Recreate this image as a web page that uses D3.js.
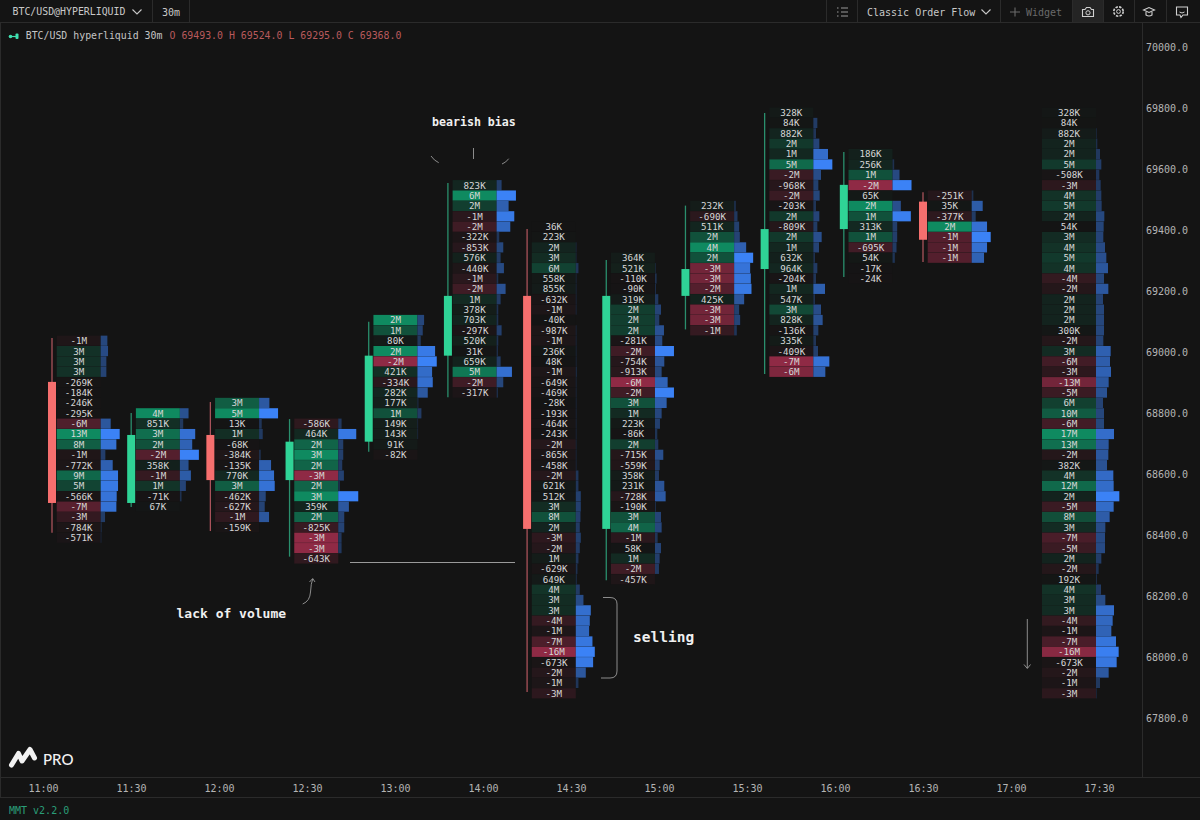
<!DOCTYPE html>
<html><head><meta charset="utf-8">
<style>html,body{margin:0;padding:0;background:#141414;overflow:hidden}svg{display:block}</style>
<script src="https://cdn.jsdelivr.net/npm/d3@7/dist/d3.min.js"></script></head>
<body><svg id="c" width="1200" height="820"></svg>
<script>
const timeLabels=["11:00","11:30","12:00","12:30","13:00","14:00","14:30","15:00","15:30","16:00","16:30","17:00","17:30"];
const priceTicks=[70000,69800,69600,69400,69200,69000,68800,68600,68400,68200,68000,67800];
const candleIds=[0,1,2,3,4,5,6,7,8,9,10,11];
const opens =[68902,68505,68728,68580,68706,68988,69184,68420,69184,69272,69403,69493];
const closes=[68505,68728,68580,68706,68988,69184,68420,69184,69272,69403,69548,69368];
const highs =[69046,68800,68836,68780,69099,69554,69403,69302,69480,69784,69656,69524];
const lows  =[68407,68492,68413,68329,68673,68852,67885,68252,69074,68928,69246,69295];
const topRowPrice=[69037,68799,68833,68765,69105,69547,69411,69309,69479,69785,69649,69513];
const rowPriceStep=34;
const deltaLabels=[
["-1M","3M","3M","3M","-269K","-184K","-246K","-295K","-6M","13M","8M","-1M","-772K","9M","5M","-566K","-7M","-3M","-784K","-571K"],
["4M","851K","3M","2M","-2M","358K","-1M","1M","-71K","67K"],
["3M","5M","13K","1M","-68K","-384K","-135K","770K","3M","-462K","-627K","-1M","-159K"],
["-586K","464K","2M","3M","2M","-3M","2M","3M","359K","2M","-825K","-3M","-3M","-643K"],
["2M","1M","80K","2M","-2M","421K","-334K","282K","177K","1M","149K","143K","91K","-82K"],
["823K","6M","2M","-1M","-2M","-322K","-853K","576K","-440K","-1M","-2M","1M","378K","703K","-297K","520K","31K","659K","5M","-2M","-317K"],
["36K","223K","2M","3M","6M","558K","855K","-632K","-1M","-40K","-987K","-1M","236K","48K","-1M","-649K","-469K","-28K","-193K","-464K","-243K","-2M","-865K","-458K","-2M","621K","512K","3M","8M","2M","-3M","-2M","1M","-629K","649K","4M","3M","3M","-4M","-1M","-7M","-16M","-673K","-2M","-1M","-3M"],
["364K","521K","-110K","-90K","319K","2M","2M","2M","-281K","-2M","-754K","-913K","-6M","-2M","3M","1M","223K","-86K","2M","-715K","-559K","358K","231K","-728K","-190K","3M","4M","-1M","58K","1M","-2M","-457K"],
["232K","-690K","511K","2M","4M","2M","-3M","-3M","-2M","425K","-3M","-3M","-1M"],
["328K","84K","882K","2M","1M","5M","-2M","-968K","-2M","-203K","2M","-809K","2M","1M","632K","964K","-204K","1M","547K","3M","828K","-136K","335K","-409K","-7M","-6M"],
["186K","256K","1M","-2M","65K","2M","1M","313K","1M","-695K","54K","-17K","-24K"],
["-251K","35K","-377K","2M","-1M","-1M","-1M"]];
const volumes=[
[20,22,17,17,0,0,0,0,30,57,47,14,36,52,52,48,47,13,3,2],
[26,10,46,37,57,26,33,18,5,0],
[31,57,8,11,0,5,36,45,47,20,17,30,0],
[10,54,15,15,12,17,5,60,32,18,18,10,10,0],
[20,16,10,53,58,44,46,31,3,12,2,2,0,0],
[15,58,36,53,41,8,20,12,22,5,27,12,5,5,15,5,4,12,46,20,4],
[0,0,2,2,8,2,2,2,2,0,2,2,2,2,3,2,2,2,2,2,2,2,2,2,8,8,15,15,14,12,15,12,8,5,3,12,23,45,42,40,50,57,52,30,8,0],
[0,2,5,3,10,18,13,27,22,57,28,20,38,57,35,20,15,7,10,25,14,12,28,32,3,18,20,8,18,14,12,0],
[5,10,15,17,36,57,48,50,52,30,15,18,8],
[0,12,8,18,44,57,23,15,19,8,18,12,25,17,5,12,8,35,5,23,28,15,8,14,48,36],
[0,5,21,57,0,25,55,14,14,12,7,0,0],
[5,33,12,46,57,46,37]];
const profileTopPrice=69785;
const profileDeltas=["328K","84K","882K","2M","2M","5M","-508K","-3M","4M","5M","2M","54K","3M","4M","5M","4M","-4M","-2M","2M","2M","2M","300K","-2M","3M","-6M","-3M","-13M","-5M","6M","10M","-6M","17M","13M","-2M","382K","4M","12M","2M","-5M","8M","3M","-7M","-5M","2M","-2M","192K","4M","3M","3M","-4M","-1M","-7M","-16M","-673K","-2M","-1M","-3M"];
const profileVolumes=[0,0,2,4,12,16,10,14,16,17,25,23,22,27,31,36,24,37,21,24,24,24,22,44,42,45,38,33,21,24,24,54,38,37,33,52,53,70,53,41,28,27,27,16,8,3,15,28,54,50,46,60,68,62,38,12,2];

const BG="#141414",LINE="#2b2b2b",MONO="'DejaVu Sans Mono','Liberation Mono',monospace";
const UP="#2fd396",DOWN="#f66f6e",UPW="#2a8f6d",DOWNW="#a9525a";
const svg=d3.select("#c");
svg.append("rect").attr("width",1200).attr("height",820).attr("fill",BG);

const y=d3.scaleLinear().domain([67800,70000]).range([718,47]);
const x=d3.scalePoint().domain(candleIds).range([52,923]);
const xTime=d3.scalePoint().domain(timeLabels).range([43,1099]);
const volW=d3.scaleLinear().domain([0,300]).range([0,100]);
const rowH=y(0)-y(rowPriceStep);
const parse=s=>{const v=parseFloat(s);return s.endsWith("M")?v*1e6:v*1e3;};
const cellColor=(v,max)=>{const r=Math.abs(v)/max;return d3.interpolateRgb(BG,v>=0?"#0f8a60":"#8f2a45")(Math.pow(r,0.95));};
const volColor=(v,max)=>d3.interpolateRgb(BG,"#3b82f6")(Math.min(1,0.2+0.8*Math.pow(v/max,1.05)));

function drawLadder(g,top,labels,vols,cellX,cellW){
  const rows=labels.map((l,i)=>({l,d:parse(l),v:vols[i],p:top-i*rowPriceStep}));
  const maxD=d3.max(rows,r=>Math.abs(r.d)),maxV=d3.max(rows,r=>r.v);
  g.selectAll("rect.cell").data(rows).join("rect").attr("class","cell")
   .attr("x",cellX).attr("width",cellW).attr("y",r=>y(r.p)-rowH/2+0.1).attr("height",rowH-0.2)
   .attr("fill",r=>cellColor(r.d,maxD));
  g.selectAll("rect.vol").data(rows.filter(r=>r.v>0)).join("rect").attr("class","vol")
   .attr("x",cellX+cellW).attr("width",r=>volW(r.v)).attr("y",r=>y(r.p)-rowH/2+0.1).attr("height",rowH-0.2)
   .attr("fill",r=>volColor(r.v,maxV));
  g.selectAll("text").data(rows).join("text")
   .attr("x",cellX+cellW/2).attr("y",r=>y(r.p)+0.2).attr("dy","0.35em").attr("text-anchor","middle")
   .attr("font-family",MONO).attr("font-size",9.2).attr("fill","#d6d6d6").text(r=>r.l);
}
const chart=svg.append("g");
candleIds.forEach(i=>{
  const g=chart.append("g");
  drawLadder(g,topRowPrice[i],deltaLabels[i],volumes[i],x(i)+4.7,44);
});
drawLadder(chart.append("g"),profileTopPrice,profileDeltas,profileVolumes,1042,54);

const candles=candleIds.map(i=>({i,o:opens[i],c:closes[i],h:highs[i],l:lows[i]}));
chart.selectAll("line.wick").data(candles).join("line").attr("class","wick")
 .attr("x1",d=>x(d.i)).attr("x2",d=>x(d.i)).attr("y1",d=>y(d.h)).attr("y2",d=>y(d.l))
 .attr("stroke",d=>d.c>=d.o?UPW:DOWNW).attr("stroke-width",1.3);
chart.selectAll("rect.body").data(candles).join("rect").attr("class","body")
 .attr("x",d=>x(d.i)-4).attr("width",8).attr("y",d=>y(Math.max(d.o,d.c)))
 .attr("height",d=>Math.abs(y(d.o)-y(d.c)))
 .attr("fill",d=>d.c>=d.o?UP:DOWN);

// frame lines
const frame=svg.append("g").attr("stroke",LINE).attr("stroke-width",1);
[[0,22.5,1200,22.5],[0,777.5,1200,777.5],[0,797.5,1200,797.5],[1142.5,22,1142.5,777],[0.5,22,0.5,797],
 [152.5,0,152.5,22],[189.5,0,189.5,22],[826.5,0,826.5,22],[857.5,0,857.5,22],[1000.5,0,1000.5,22],[1072.5,0,1072.5,22],[1103.5,0,1103.5,22],[1134.5,0,1134.5,22],[1166.5,0,1166.5,22]]
 .forEach(a=>frame.append("line").attr("x1",a[0]).attr("y1",a[1]).attr("x2",a[2]).attr("y2",a[3]));
svg.append("rect").attr("x",1073).attr("y",0).attr("width",30).attr("height",22).attr("fill","#242424");

// axes
const yAxis=d3.axisRight(y).tickValues(priceTicks).tickSize(0).tickPadding(0).tickFormat(d=>d3.format(".1f")(d));
const ya=svg.append("g").attr("transform","translate(1146,0)").call(yAxis);
ya.select(".domain").remove();
ya.selectAll("text").attr("font-family",MONO).attr("font-size",10).attr("fill","#b4b4b4");
const xAxis=d3.axisBottom(xTime).tickSize(0).tickPadding(0);
const xa=svg.append("g").attr("transform","translate(0,784.5)").call(xAxis);
xa.select(".domain").remove();
xa.selectAll("text").attr("font-family",MONO).attr("font-size",10).attr("fill","#b4b4b4");

// text helper
const T=(s,xx,yy,size,fill,extra={})=>{const t=svg.append("text").attr("x",xx).attr("y",yy).attr("dy","0.35em")
  .attr("font-family",MONO).attr("font-size",size).attr("fill",fill).text(s);
  Object.entries(extra).forEach(([k,v])=>t.attr(k,v));return t;};
T("BTC/USD@HYPERLIQUID",12.5,12,9.9,"#c8c8c8");
T("30m",162,12,10,"#c8c8c8");
T("Classic Order Flow",867,12,10,"#c8c8c8");
T("Widget",1026,12,10,"#6a6a6a");
T("BTC/USD hyperliquid 30m",25.7,36,9.9,"#c4c4c4");
T("O 69493.0 H 69524.0 L 69295.0 C 69368.0",169.5,36,9.9,"#b85a5c");
T("MMT v2.2.0",9,810,10,"#2a9d78");
T("bearish bias",432,122,11.6,"#f0f0f0",{"font-weight":"bold"});
T("lack of volume",176.5,613,13,"#f0f0f0",{"font-weight":"bold"});
T("selling",633,637,14.5,"#f0f0f0",{"font-weight":"bold"});
svg.append("text").attr("x",43).attr("y",760).attr("dy","0.35em").attr("font-family","Lato,'Noto Sans',sans-serif")
 .attr("font-size",15).attr("font-weight",500).attr("fill","#f2f2f2").text("PRO");

// small drawn paths
const P=(d,stroke,w,fill="none",extra={})=>{const p=svg.append("path").attr("d",d).attr("stroke",stroke).attr("stroke-width",w).attr("fill",fill);
  Object.entries(extra).forEach(([k,v])=>p.attr(k,v));return p;};
P("M132.5 9.5L137 14L141.5 9.5","#c8c8c8",1.1);
P("M981.5 9.5L986 14L990.5 9.5","#c8c8c8",1.1);
P("M1015 7.5V16.5M1010 12H1020","#6a6a6a",1.1);
P("M841 8H848M841 12H848M841 16H848M837 8H838.5M837 12H838.5M837 16H838.5","#9a9a9a",1.2);
P("M1082.5 9.5H1085L1086.5 7.5H1090L1091.5 9.5H1093.5V16.5H1082.5Z","#d0d0d0",1.1);
svg.append("circle").attr("cx",1088).attr("cy",12.8).attr("r",2.1).attr("fill","none").attr("stroke","#d0d0d0");
svg.append("circle").attr("cx",1118.5).attr("cy",11.5).attr("r",1.9).attr("fill","none").attr("stroke","#d0d0d0");
svg.append("circle").attr("cx",1118.5).attr("cy",11.5).attr("r",4.7).attr("fill","none").attr("stroke","#d0d0d0").attr("stroke-width",1.6).attr("stroke-dasharray","2.4 1.3");
P("M1143.5 10L1149 7.5L1154.5 10L1149 12.5ZM1146 12V15Q1149 17 1152 15V12","#d0d0d0",1.1);
P("M1176.5 7H1187.5V15H1183L1181 17.5L1180 15H1176.5Z","#d0d0d0",1.1);
P("M1179.5 12Q1182 14 1184.5 12","#d0d0d0",1);
P("M11 36.5H17","#3fe0b0",1.2);
svg.append("circle").attr("cx",10.5).attr("cy",36.5).attr("r",1.8).attr("fill","#3fe0b0");
svg.append("rect").attr("x",15.5).attr("y",33.5).attr("width",3).attr("height",5.5).attr("rx",1).attr("fill","#3fe0b0");
P("M11.5 765L18.5 753.5L22 761L30 749.5L34.5 758","#f2f2f2",5,"none",{"stroke-linejoin":"round","stroke-linecap":"round"});

// annotations
const A="#9a9a9a";
P("M431 156Q434 160.5 438.7 162.7",A,0.9);
P("M473.5 148V159",A,0.9);
P("M502 164Q506 162.5 508.7 158.7",A,0.9);
P("M350 562.5H515",A,1);
P("M302.7 604Q310 601 310.5 592T312.7 579",A,0.9);
P("M309.5 582L312.7 578.5L315 582",A,0.9);
P("M603 597.5H610Q617 597.5 617 604V671Q617 678 610 678H601",A,0.9);
P("M1027.3 619V668",A,0.9);
P("M1024 664.5L1027.3 668.5L1030.5 664.5",A,0.9);
</script></body></html>
